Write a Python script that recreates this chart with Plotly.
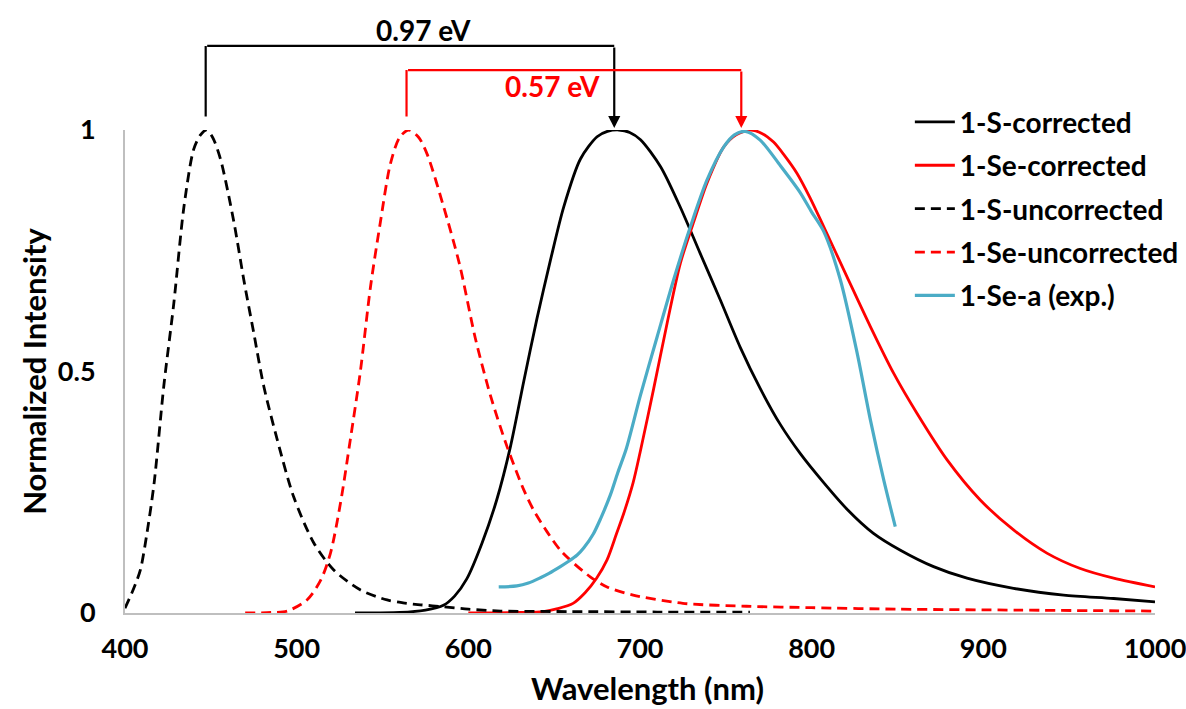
import plotly.graph_objects as go

# ---------------- data ----------------
s_unc_x = [400, 405, 409, 413, 417, 422.6, 428.4, 434.3, 440, 444, 447.5, 451, 455.6, 463.4, 469.2,
           475, 480.8, 488.6, 498.3, 510, 521.6, 537, 552.7, 562, 572, 585.5, 600, 618.7, 660, 710, 764]
s_unc_y = [0.01, 0.05, 0.09, 0.17, 0.27, 0.47, 0.64, 0.84, 0.96, 0.99, 1.0, 0.985, 0.94, 0.81, 0.69,
           0.58, 0.47, 0.36, 0.24, 0.145, 0.089, 0.048, 0.027, 0.021, 0.017, 0.013, 0.008, 0.004,
           0.003, 0.002, 0.002]

se_unc_x = [470, 485, 494.5, 506, 514, 519.7, 525.5, 531.3, 537.1, 543, 548.8, 554.6, 560, 565.3,
            571, 576, 585.7, 595, 604, 612.9, 622.6, 632.3, 638, 645.9, 653.6, 661.4, 671, 680.8,
            696, 725, 762, 800, 850, 920, 1000]
se_unc_y = [0.0, 0.001, 0.004, 0.027, 0.068, 0.124, 0.227, 0.36, 0.50, 0.675, 0.81, 0.93, 0.985, 1.0,
            0.985, 0.95, 0.84, 0.72, 0.57, 0.45, 0.344, 0.255, 0.213, 0.168, 0.13, 0.103, 0.075,
            0.054, 0.037, 0.02, 0.014, 0.011, 0.008, 0.006, 0.004]

s_cor_x = [534, 560, 575, 585.5, 592, 599, 608, 616.6, 624.5, 632.3, 640, 647.8, 655.5, 665.3, 675,
           681, 687.6, 694, 700.3, 712, 723.5, 735, 746.8, 758.4, 770, 781.8, 793.4, 807, 820.6,
           836, 851.7, 871, 890.5, 917.6, 946.8, 975.9, 1000]
s_cor_y = [0.0, 0.001, 0.006, 0.016, 0.035, 0.07, 0.145, 0.235, 0.344, 0.48, 0.61, 0.73, 0.84, 0.94,
           0.986, 0.997, 1.0, 0.995, 0.98, 0.924, 0.84, 0.745, 0.648, 0.55, 0.465, 0.39, 0.33, 0.27,
           0.215, 0.165, 0.13, 0.096, 0.072, 0.051, 0.037, 0.03, 0.023]

se_cor_x = [600, 630, 643.7, 652, 661, 668, 674.7, 680.8, 686.4, 690.5, 696, 700.2, 708, 715.8,
            723.5, 731.3, 739, 748.8, 756, 764.3, 771, 777.8, 784, 791.5, 799, 807, 820.6, 834.2,
            847.8, 861.4, 878.9, 898.2, 917.6, 937, 956.5, 975.9, 1000]
se_cor_y = [0.0, 0.001, 0.003, 0.009, 0.02, 0.042, 0.072, 0.11, 0.165, 0.206, 0.27, 0.335, 0.465,
            0.6, 0.724, 0.81, 0.89, 0.965, 0.99, 1.0, 0.993, 0.975, 0.948, 0.91, 0.86, 0.80, 0.696,
            0.593, 0.496, 0.413, 0.317, 0.234, 0.172, 0.124, 0.092, 0.072, 0.054]

exp_x = [617.7, 628.3, 635, 642, 647, 653.6, 658, 663.4, 667.3, 672.7, 677, 682.8, 687, 692, 700.2,
         710, 719.6, 729.4, 739, 748.8, 755, 761.4, 770, 781.8, 793.4, 800, 807, 816.7, 826.5,
         834.2, 842, 848.7]
exp_y = [0.054, 0.056, 0.062, 0.073, 0.082, 0.096, 0.106, 0.12, 0.135, 0.163, 0.195, 0.245, 0.29,
         0.34, 0.45, 0.572, 0.69, 0.80, 0.896, 0.965, 0.99, 0.997, 0.979, 0.926, 0.87, 0.83, 0.79,
         0.69, 0.538, 0.40, 0.275, 0.179]

x_range = [400, 1000]
y_range = [0, 1]
x_ticks = [400, 500, 600, 700, 800, 900, 1000]
y_ticks = [0, 0.5, 1]
y_tick_text = ["0", "0.5", "1"]
x_title = "Wavelength (nm)"
y_title = "Normalized Intensity"

# energy-shift brackets (wavelengths of the connected peaks, bracket heights, labels)
shift_S = dict(x0=447, x1=685, top=1.174, base0=1.025, base1=1.004,
               label="0.97 eV", lx=574, ly=1.207, color="black")
shift_Se = dict(x0=564, x1=759, top=1.124, base0=1.025, base1=1.004,
                label="0.57 eV", lx=649, ly=1.091, color="#FF0000")

FONT = "Lato"
fig = go.Figure()

def add(x, y, name, color, dash=None, width=2.8):
    fig.add_trace(go.Scatter(
        x=x, y=y, mode="lines", name=name, legendgroup=name,
        line=dict(color=color, width=width, dash=dash, shape="spline", smoothing=0.8),
    ))

DASH = "10px,6px"
add(s_cor_x, s_cor_y, "1-S-corrected", "black")
add(se_cor_x, se_cor_y, "1-Se-corrected", "#FF0000")
add(s_unc_x, s_unc_y, "1-S-uncorrected", "black", dash=DASH)
add(se_unc_x, se_unc_y, "1-Se-uncorrected", "#FF0000", dash=DASH)
add(exp_x, exp_y, "1-Se-a (exp.)", "#4BACC6", width=3.2)

def xd(v):  # data -> x-domain fraction
    return (v - x_range[0]) / (x_range[1] - x_range[0])

def yd(v):  # data -> y-domain fraction
    return (v - y_range[0]) / (y_range[1] - y_range[0])

annotations = []
for b in (shift_S, shift_Se):
    seg = dict(xref="x domain", yref="y domain", axref="x domain", ayref="y domain", text="",
               showarrow=True, arrowcolor=b["color"], arrowwidth=2.2, standoff=0, startstandoff=0)
    annotations.append(dict(seg, x=xd(b["x0"]), y=yd(b["top"]), ax=xd(b["x0"]), ay=yd(b["base0"]),
                            arrowhead=0))
    annotations.append(dict(seg, x=xd(b["x1"]), y=yd(b["top"]), ax=xd(b["x0"]), ay=yd(b["top"]),
                            arrowhead=0))
    annotations.append(dict(seg, x=xd(b["x1"]), y=yd(b["base1"]), ax=xd(b["x1"]), ay=yd(b["top"]),
                            arrowhead=2, arrowsize=1.1))
    annotations.append(dict(xref="x domain", yref="y domain", x=xd(b["lx"]), y=yd(b["ly"]),
                            xanchor="center", yanchor="middle",
                            text=b["label"], showarrow=False,
                            font=dict(family=FONT, size=28, color=b["color"], weight="bold")))

# x-axis title placed below the tick labels
annotations.append(dict(xref="x domain", yref="y domain", x=0.507, y=-0.156,
                        xanchor="center", yanchor="middle", showarrow=False, text=x_title,
                        font=dict(family=FONT, size=31, color="black", weight="bold")))

fig.update_layout(
    width=1186, height=709,
    margin=dict(l=125, r=31, t=130, b=96, autoexpand=False),
    paper_bgcolor="white", plot_bgcolor="white",
    font=dict(family=FONT, size=28, color="black", weight="bold"),
    showlegend=True,
    legend=dict(x=0.762, y=1.068, xanchor="left", yanchor="top",
                font=dict(family=FONT, size=28, color="black", weight="bold"),
                bgcolor="rgba(0,0,0,0)", tracegroupgap=4, itemwidth=40,
                borderwidth=0),
    xaxis=dict(range=x_range, tickvals=x_ticks, showgrid=False, zeroline=False,
               showline=True, linecolor="#BFBFBF", linewidth=2, ticks="",
               automargin=False, ticklabelstandoff=11, ticklabeloverflow="allow",
               tickfont=dict(family=FONT, size=27, weight="bold")),
    yaxis=dict(range=y_range, tickvals=y_ticks, ticktext=y_tick_text, showgrid=False,
               zeroline=False, showline=True, linecolor="#BFBFBF", linewidth=2, ticks="",
               automargin=False, ticklabelstandoff=22, ticklabeloverflow="allow",
               tickfont=dict(family=FONT, size=27, weight="bold"),
               title=dict(text=y_title, standoff=2,
                          font=dict(family=FONT, size=31, weight="bold"))),
    annotations=annotations,
)

fig.write_html(
    "out.html",
    config={"displayModeBar": False},
    post_script="document.body.style.margin='0';document.body.style.overflow='hidden';",
)
